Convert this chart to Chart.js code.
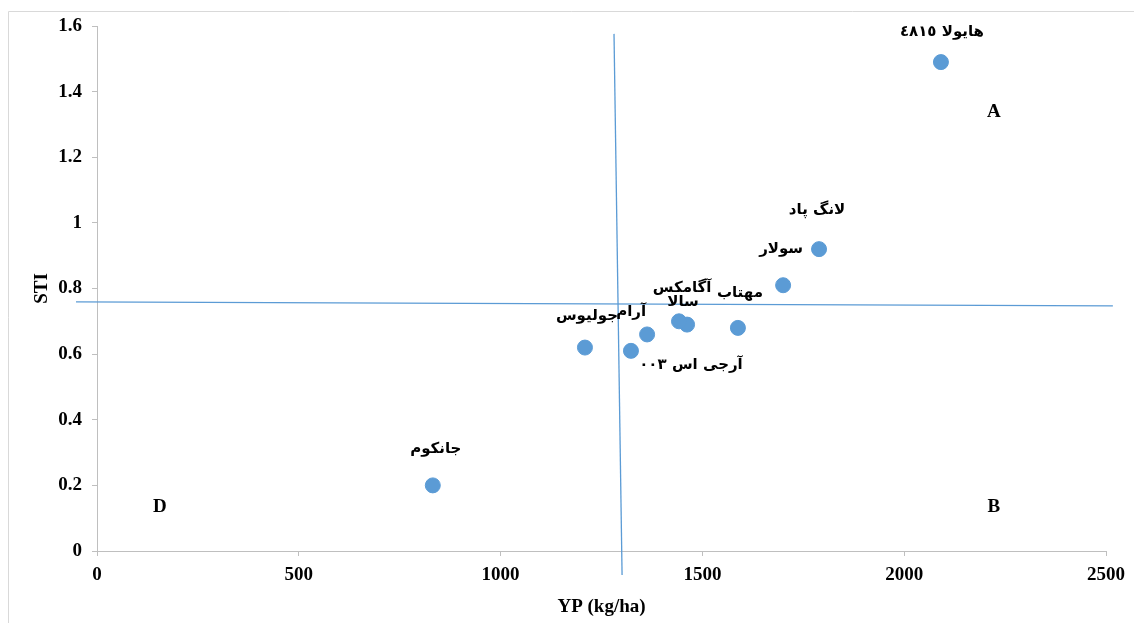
<!DOCTYPE html>
<html lang="fa">
  <head>
    <meta charset="UTF-8" />
    <title>STI vs YP</title>
    <script src="https://cdn.jsdelivr.net/npm/chart.js"></script>
    <style>
      html,
      body {
        margin: 0;
        padding: 0;
        background: #ffffff;
      }

      .chart-box {
        position: relative;
        width: 1134px;
        height: 623px;
      }
    </style>
  </head>
  <body>
    <div class="chart-box">
      <canvas id="stiChart"></canvas>
    </div>

    <script>
      // cultivar names and values
      const cultivars = [
        "هایولا ٤٨١٥",
        "لانگ پاد",
        "سولار",
        "مهتاب",
        "آگامکس",
        "سالا",
        "آرام",
        "جولیوس",
        "آرجی اس ٠٠٣",
        "جانکوم",
      ];
      const ypValues = [2091, 1789, 1700, 1588, 1462, 1442, 1363, 1209, 1323, 832];
      const stiValues = [1.49, 0.92, 0.81, 0.68, 0.69, 0.7, 0.66, 0.62, 0.61, 0.2];

      // the two dividing lines (in axis units)
      const vLineX = [1281, 1301];
      const vLineY = [1.576, -0.073];
      const hLineX = [-52, 2517];
      const hLineY = [0.759, 0.747];

      // quadrant letters
      const quadLetters = ["A", "B", "D"];
      const quadX = [2222, 2222, 156];
      const quadY = [1.338, 0.134, 0.134];

      const xTicks = [0, 500, 1000, 1500, 2000, 2500];
      const yTicks = [0, 0.2, 0.4, 0.6, 0.8, 1, 1.2, 1.4, 1.6];

      // label offsets from the point, in pixels
      const labelDx = [1, -2, -2, 2, -5, 4, -16, 2, 60, 3];
      const labelDy = [-30, -39, -36, -35, -36, -19, -22, -31, 14, -36];

      const blue = "#5b9bd5";
      const axisGray = "#bfbfbf";
      const serifBold = { family: "'Liberation Serif', 'Times New Roman', serif", size: 19, weight: "bold" };

      const pointLabels = {
        id: "pointLabels",
        afterDatasetsDraw(chart) {
          const { ctx, scales } = chart;
          ctx.save();
          ctx.fillStyle = "#000";
          ctx.textAlign = "center";
          ctx.textBaseline = "middle";
          ctx.direction = "rtl";
          ctx.font = "bold 15px 'DejaVu Sans', sans-serif";
          cultivars.forEach((name, i) => {
            const px = scales.x.getPixelForValue(ypValues[i]);
            const py = scales.y.getPixelForValue(stiValues[i]);
            ctx.fillText(name, px + labelDx[i], py + labelDy[i]);
          });
          ctx.direction = "ltr";
          ctx.font = "bold 19px 'Liberation Serif', serif";
          quadLetters.forEach((l, i) => {
            ctx.fillText(
              l,
              scales.x.getPixelForValue(quadX[i]),
              scales.y.getPixelForValue(quadY[i])
            );
          });
          ctx.restore();
        },
        beforeDraw(chart) {
          const { ctx } = chart;
          ctx.save();
          ctx.strokeStyle = "#d9d9d9";
          ctx.lineWidth = 1;
          ctx.beginPath();
          ctx.moveTo(8.5, 623);
          ctx.lineTo(8.5, 11.5);
          ctx.lineTo(1134, 11.5);
          ctx.stroke();
          ctx.restore();
        },
      };

      new Chart(document.getElementById("stiChart"), {
        type: "scatter",
        data: {
          datasets: [
            {
              label: "STI",
              data: ypValues.map((v, i) => ({ x: v, y: stiValues[i] })),
              backgroundColor: blue,
              borderColor: blue,
              pointRadius: 7.5,
              pointHoverRadius: 7.5,
              order: 1,
            },
            {
              type: "line",
              data: vLineX.map((v, i) => ({ x: v, y: vLineY[i] })),
              borderColor: blue,
              borderWidth: 1.3,
              pointRadius: 0,
              clip: false,
              order: 2,
            },
            {
              type: "line",
              data: hLineX.map((v, i) => ({ x: v, y: hLineY[i] })),
              borderColor: blue,
              borderWidth: 1.3,
              pointRadius: 0,
              clip: false,
              order: 2,
            },
          ],
        },
        options: {
          responsive: true,
          maintainAspectRatio: false,
          animation: false,
          layout: { padding: { left: 8, right: 28, top: 26, bottom: 0 } },
          plugins: {
            legend: { display: false },
            tooltip: { enabled: false },
          },
          scales: {
            x: {
              type: "linear",
              min: 0,
              max: 2500,
              afterBuildTicks: (s) => {
                s.ticks = xTicks.map((v) => ({ value: v }));
              },
              afterFit: (s) => {
                s.height = 72;
              },
              ticks: {
                color: "#000",
                font: serifBold,
                padding: 8,
                maxRotation: 0,
                callback: (v) => String(v),
              },
              grid: {
                drawOnChartArea: false,
                drawTicks: true,
                tickLength: 5,
                color: axisGray,
              },
              border: { color: axisGray, width: 1 },
              title: {
                display: true,
                text: "YP (kg/ha)",
                color: "#000",
                font: serifBold,
                padding: { top: 0, bottom: 5 },
              },
            },
            y: {
              type: "linear",
              min: 0,
              max: 1.6,
              afterBuildTicks: (s) => {
                s.ticks = yTicks.map((v) => ({ value: v }));
              },
              afterFit: (s) => {
                s.width = 89;
              },
              ticks: {
                color: "#000",
                font: serifBold,
                padding: 10,
                callback: (v) => String(Math.round(v * 10) / 10),
              },
              grid: {
                drawOnChartArea: false,
                drawTicks: true,
                tickLength: 5,
                color: axisGray,
              },
              border: { color: axisGray, width: 1 },
              title: {
                display: true,
                text: "STI",
                color: "#000",
                font: serifBold,
                padding: { top: 23, bottom: 0 },
              },
            },
          },
        },
        plugins: [pointLabels],
      });
    </script>
  </body>
</html>
